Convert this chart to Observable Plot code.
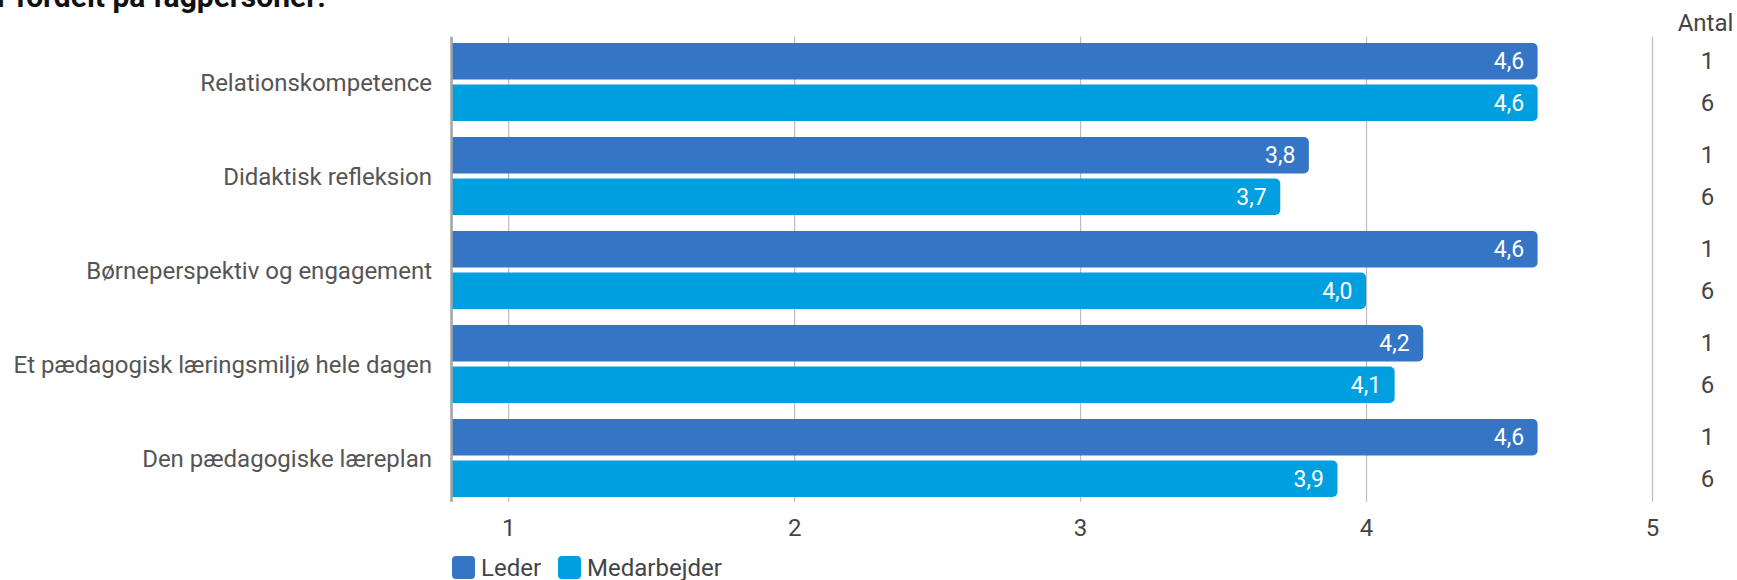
<!DOCTYPE html>
<html>
<head>
<meta charset="utf-8">
<script src="https://cdn.jsdelivr.net/npm/d3@7"></script>
<script src="https://cdn.jsdelivr.net/npm/@observablehq/plot@0.6"></script>
<style>
  html, body { margin: 0; padding: 0; background: #fff; overflow: hidden; }
  #wrap { position: relative; width: 1737px; height: 580px; overflow: hidden; font-family: Roboto, sans-serif; }
  #title { position: absolute; left: -3px; top: -18px; font: bold 30px Roboto, sans-serif; line-height: 30px; color: #111; white-space: nowrap; }
  #chart { position: absolute; left: 0; top: 0; }
  #legend { position: absolute; left: 452px; top: 556px; display: flex; align-items: center; height: 23px; font-size: 24px; color: #444; }
  .item { display: flex; align-items: center; margin-right: 17px; }
  .sw { width: 23px; height: 23px; border-radius: 4px; margin-right: 6px; }
</style>
</head>
<body>
<div id="wrap">
  <div id="title">r fordelt på fagpersoner:</div>
  <div id="chart"></div>
  <div id="legend"></div>
</div>
<script>
const categories = [
  "Relationskompetence",
  "Didaktisk refleksion",
  "Børneperspektiv og engagement",
  "Et pædagogisk læringsmiljø hele dagen",
  "Den pædagogiske læreplan"
];
const series = ["Leder", "Medarbejder"];
const lederValues = [4.6, 3.8, 4.6, 4.2, 4.6];
const medarbejderValues = [4.6, 3.7, 4.0, 4.1, 3.9];
const lederAntal = [1, 1, 1, 1, 1];
const medarbejderAntal = [6, 6, 6, 6, 6];
const xTicks = [1, 2, 3, 4, 5];
const xDomain = [0.8, 5];
const antalLabel = "Antal";
const colors = ["#3475c6", "#009fe0"];

const valuesBySeries = { Leder: lederValues, Medarbejder: medarbejderValues };
const antalBySeries = { Leder: lederAntal, Medarbejder: medarbejderAntal };

const rows = categories.flatMap((c, i) => series.map(s => ({
  cat: c, series: s, key: c + "|" + s,
  value: valuesBySeries[s][i], antal: antalBySeries[s][i]
})));
const lederRows = rows.filter(d => d.series === "Leder");
const medRows = rows.filter(d => d.series === "Medarbejder");
const fmt = v => d3.format(".1f")(v).replace(".", ",");

const step = 47.75;
const barOpts = (s) => s === "Leder"
  ? { insetTop: 8, insetBottom: 2.5, dy: 2.75 }
  : { insetTop: 2.5, insetBottom: 8, dy: -2.75 };

const marks = [
  Plot.ruleX(xTicks, { stroke: "#bdbdbd", strokeWidth: 1.2, insetTop: 5.7, insetBottom: 6.8 })
];
for (const [s, data] of [["Leder", lederRows], ["Medarbejder", medRows]]) {
  const o = barOpts(s);
  marks.push(Plot.barX(data, {
    x1: () => xDomain[0] - 0.05, x2: "value", y: "key", fill: "series",
    rx: 5, insetTop: o.insetTop, insetBottom: o.insetBottom, clip: true
  }));
  marks.push(Plot.text(data, {
    x: "value", y: "key", text: d => fmt(d.value), dx: -14, dy: o.dy,
    textAnchor: "end", lineAnchor: "middle", fill: "white", fontSize: 23
  }));
  marks.push(Plot.text(data, {
    y: "key", text: d => String(d.antal), frameAnchor: "right", dx: 55, dy: o.dy,
    textAnchor: "middle", lineAnchor: "middle", fill: "#444", fontSize: 24
  }));
}
marks.push(Plot.text(lederRows, {
  y: "key", text: "cat", frameAnchor: "left", dx: -19.5, dy: step / 2,
  textAnchor: "end", lineAnchor: "middle", fill: "#555", fontSize: 24
}));
marks.push(Plot.text([antalLabel], {
  text: d => d, frameAnchor: "top-right", dx: 53, dy: -8,
  textAnchor: "middle", lineAnchor: "middle", fill: "#444", fontSize: 24
}));
marks.push(Plot.ruleX([xDomain[0]], { stroke: "#a3a3a3", strokeWidth: 2.5, insetTop: 5.7, insetBottom: 6.8 }));

const chart = Plot.plot({
  width: 1737,
  height: 545,
  marginLeft: 451,
  marginRight: 85,
  marginTop: 31,
  marginBottom: 36.5,
  style: { fontFamily: "Roboto, sans-serif", fontSize: "24px", color: "#444", background: "transparent", overflow: "visible" },
  x: { domain: xDomain, ticks: xTicks, tickSize: 0, tickPadding: 10, tickFormat: d => String(d), label: null },
  y: { domain: rows.map(d => d.key), padding: 0, axis: null },
  color: { domain: series, range: colors },
  marks
});
document.getElementById("chart").appendChild(chart);

const legend = document.getElementById("legend");
series.forEach((s, i) => {
  const item = document.createElement("div");
  item.className = "item";
  const sw = document.createElement("div");
  sw.className = "sw";
  sw.style.background = colors[i];
  const t = document.createElement("span");
  t.textContent = s;
  item.appendChild(sw);
  item.appendChild(t);
  legend.appendChild(item);
});
</script>
</body>
</html>
